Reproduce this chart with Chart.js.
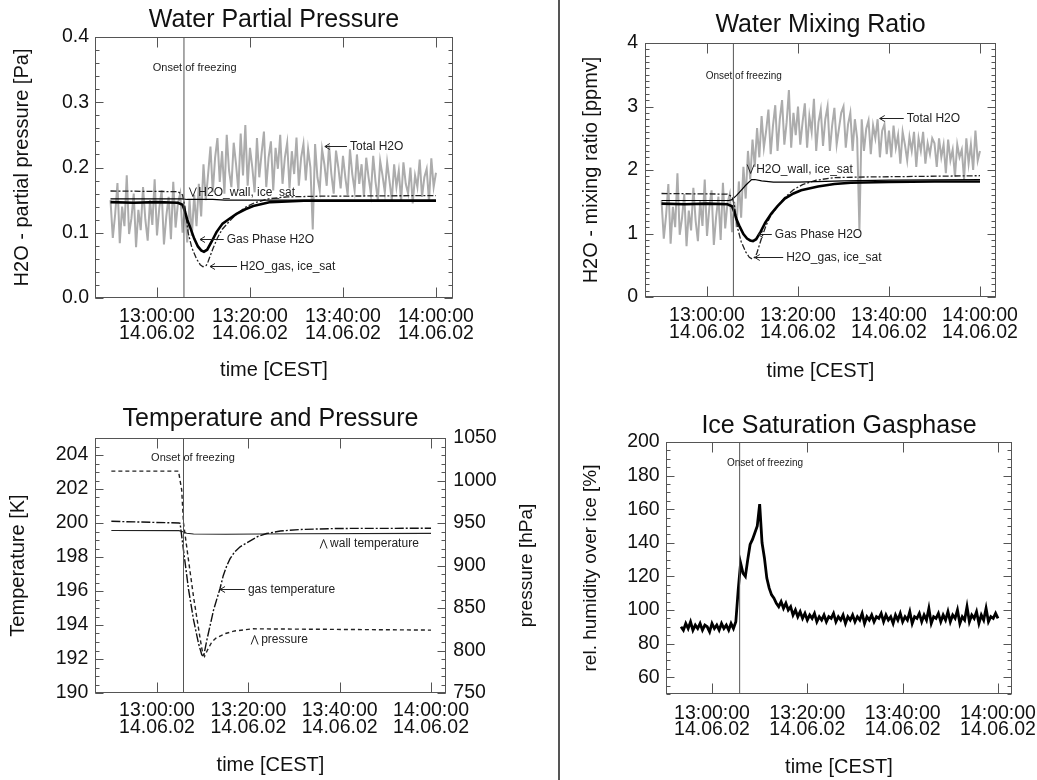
<!DOCTYPE html>
<html><head><meta charset="utf-8">
<script src="https://cdn.jsdelivr.net/npm/chart.js@4.4.1/dist/chart.umd.min.js"></script>
<style>
html,body{margin:0;padding:0;background:#fff;}
#wrap{position:relative;width:1037px;height:780px;overflow:hidden;background:#fff;}
canvas{position:absolute;}
#divider{position:absolute;left:558px;top:0;width:2px;height:780px;background:#555;}
</style></head><body>
<div id="wrap">
<canvas id="c1" width="520" height="390" style="left:0;top:0;width:520px;height:390px"></canvas>
<canvas id="c2" width="477" height="390" style="left:560px;top:0;width:477px;height:390px"></canvas>
<canvas id="c3" width="558" height="390" style="left:0;top:390px;width:558px;height:390px"></canvas>
<canvas id="c4" width="477" height="390" style="left:560px;top:390px;width:477px;height:390px"></canvas>
<div id="divider"></div>
</div>
<script>
// ---------- DATA (time in minutes after 12:00 CEST, 14.06.02) ----------
const sampleTimes = [
50,50.5,51,51.5,52,52.5,53,53.5,54,54.5,55,55.5,56,56.5,57,57.5,58,58.5,59,59.5,
60,60.5,61,61.5,62,62.5,63,63.5,64,64.5,65,65.5,66,66.5,67,67.5,68,68.5,69,69.5,
70,70.5,71,71.5,72,72.5,73,73.5,74,74.5,75,75.5,76,76.5,77,77.5,78,78.5,79,79.5,
80,80.5,81,81.5,82,82.5,83,83.5,84,84.5,85,85.5,86,86.5,87,87.5,88,88.5,89,89.5,
90,90.5,91,91.5,92,92.5,93,93.5,94,94.5,95,95.5,96,96.5,97,97.5,98,98.5,99,99.5,
100,100.5,101,101.5,102,102.5,103,103.5,104,104.5,105,105.5,106,106.5,107,107.5,108,108.5,109,109.5,
110,110.5,111,111.5,112,112.5,113,113.5,114,114.5,115,115.5,116,116.5,117,117.5,118,118.5,119,119.5,
120];
const totalH2OPa = [
0.150,0.092,0.128,0.176,0.084,0.140,0.110,0.188,0.098,0.122,0.160,0.078,0.135,0.104,0.170,0.120,0.088,0.150,0.112,0.182,
0.096,0.138,0.165,0.082,0.125,0.155,0.090,0.178,0.108,0.145,0.160,0.100,0.140,0.085,0.150,0.095,0.158,0.110,0.175,0.125,
0.205,0.150,0.190,0.232,0.162,0.215,0.245,0.178,0.225,0.160,0.250,0.195,0.170,0.238,0.205,0.165,0.252,0.188,0.265,0.172,
0.230,0.200,0.162,0.245,0.185,0.222,0.255,0.170,0.215,0.240,0.165,0.230,0.198,0.250,0.175,0.215,0.238,0.168,0.225,0.190,
0.246,0.172,0.215,0.236,0.180,0.228,0.200,0.105,0.236,0.185,0.165,0.228,0.205,0.172,0.234,0.190,0.160,0.226,0.200,0.168,
0.218,0.185,0.158,0.228,0.190,0.165,0.220,0.175,0.205,0.155,0.215,0.185,0.160,0.218,0.178,0.150,0.210,0.188,0.162,0.208,
0.180,0.150,0.205,0.170,0.195,0.148,0.208,0.175,0.160,0.200,0.145,0.188,0.170,0.212,0.155,0.185,0.198,0.148,0.214,0.170,
0.192];
const totalH2OPpmv = [
1.52,0.92,1.28,1.78,0.84,1.42,1.10,1.95,0.98,1.24,1.62,0.80,1.36,1.05,1.72,1.20,0.88,1.52,1.12,1.85,
0.96,1.40,1.68,0.82,1.26,1.58,0.90,1.80,1.08,1.48,1.62,1.02,1.50,1.10,1.82,1.25,2.05,1.55,2.30,1.85,
2.48,2.05,2.66,2.20,2.85,2.35,2.62,2.95,2.25,2.70,3.02,2.30,2.80,3.10,2.40,2.75,3.26,2.35,2.90,2.55,
3.00,2.40,2.75,3.05,2.35,2.85,2.60,3.12,2.30,2.75,2.95,2.38,2.80,3.00,2.30,2.70,2.98,2.40,2.65,2.90,
3.00,2.35,2.72,2.90,2.30,2.80,2.50,1.05,2.80,2.30,2.65,2.78,2.25,2.70,2.50,2.80,2.20,2.62,2.72,2.25,
2.62,2.20,2.70,2.35,2.55,2.10,2.60,2.40,2.15,2.52,2.30,2.60,2.05,2.50,2.30,2.60,2.10,2.42,2.25,2.50,
2.42,2.05,2.50,2.20,2.40,1.95,2.48,2.15,2.32,1.90,2.40,2.20,2.32,1.85,2.50,2.10,2.40,2.00,2.62,2.15,
2.30];
const rhIce = [
null,null,null,null,null,null,null,90,88,92,89,93,88,91,89,92,88,91,90,87,
92,89,91,88,92,89,91,88,92,89,93,112,128,122,120,130,139,142,146,150,
163,140,131,119,113,109,107,104,102,105,101,104,100,102,97,100,96,99,95,98,
94,97,95,98,93,96,94,97,93,96,95,98,93,96,94,97,92,96,94,97,
93,96,94,98,92,96,94,97,93,96,95,98,93,97,94,96,92,97,94,98,
93,96,94,99,92,96,95,98,93,97,94,101,92,96,95,98,93,97,94,99,
93,97,95,100,92,96,94,102,93,97,95,99,92,97,94,101,93,96,95,98,
95];

const wallTimes      = [50, 64.8, 65.4, 66.5, 67.5, 68.5, 69.8, 70.5, 72, 74.6, 80, 90, 100, 120];
const wallIceSatPa   = [0.152,0.152,0.152,0.151,0.151,0.151,0.151,0.151,0.151,0.150,0.150,0.150,0.150,0.150];
const wallIceSatPpmv = [1.52,1.52,1.53,1.60,1.68,1.76,1.85,1.85,1.83,1.81,1.81,1.83,1.84,1.85];

const iceSatTimes    = [50,64.5,65.5,66,66.7,67.5,68.5,69.3,69.9,70.6,71,72,73,74,75.5,77,79,81,84,88,95,120];
const gasIceSatPa    = [0.164,0.163,0.158,0.140,0.100,0.077,0.060,0.051,0.048,0.050,0.056,0.075,0.092,0.105,0.117,0.128,0.139,0.146,0.152,0.155,0.156,0.157];
const gasIceSatPpmv  = [1.63,1.62,1.58,1.45,1.09,0.875,0.71,0.626,0.60,0.63,0.70,0.93,1.13,1.28,1.43,1.56,1.69,1.77,1.84,1.88,1.89,1.91];

const gasPhaseTimes  = [50,55,60,64.5,65.5,66,66.5,67.1,68,68.8,69.5,70.1,70.8,71.8,72.8,74.1,75.5,77.1,79,80.7,84.4,88,91.6,100,110,120];
const gasPhasePa     = [0.147,0.146,0.147,0.146,0.143,0.133,0.120,0.109,0.091,0.079,0.073,0.071,0.074,0.087,0.101,0.114,0.121,0.129,0.136,0.141,0.147,0.148,0.149,0.149,0.149,0.149];
const gasPhasePpmv   = [1.47,1.46,1.47,1.46,1.43,1.34,1.22,1.12,0.99,0.92,0.89,0.88,0.91,1.03,1.17,1.31,1.43,1.55,1.63,1.68,1.74,1.78,1.80,1.81,1.82,1.82];

const gasTempTimes   = [50,64.8,65.05,65.8,66.9,68.0,69.1,69.8,70.2,70.9,72.4,73.8,74.5,75.3,76,77,78.2,80.4,82,84,87,91.4,100,120];
const gasTemp        = [200.1,200.0,199.98,198.4,196.1,194.3,192.9,192.25,192.15,193.1,194.9,196.15,196.9,197.5,197.9,198.3,198.6,198.95,199.2,199.38,199.53,199.62,199.68,199.69];
const wallTempTimes  = [50,64.8,65.5,66.5,68,75,90,120];
const wallTemp       = [199.56,199.55,199.5,199.4,199.35,199.34,199.37,199.39];
const pressureTimes  = [50,64.7,65.4,65.8,66.7,68,69.5,70.0,70.4,71,72,73,75,77,81,95,120];
const pressure       = [1011,1011,989,950,914,863,812,797,793,800,810,815,820,823,825.5,825,824];

const onsetTime = 65.8;

const xTickValues = [60, 80, 100, 120];
const xTickLabels = [["13:00:00","14.06.02"],["13:20:00","14.06.02"],["13:40:00","14.06.02"],["14:00:00","14.06.02"]];
const ppTickValues = [0, 0.1, 0.2, 0.3, 0.4];
const ppTickLabels = ["0.0","0.1","0.2","0.3","0.4"];
const mrTickValues = [0, 1, 2, 3, 4];
const mrTickLabels = ["0","1","2","3","4"];
const tempTickValues = [190,192,194,196,198,200,202,204];
const tempTickLabels = ["190","192","194","196","198","200","202","204"];
const presTickValues = [750,800,850,900,950,1000,1050];
const presTickLabels = ["750","800","850","900","950","1000","1050"];
const rhTickValues = [60,80,100,120,140,160,180,200];
const rhTickLabels = ["60","80","100","120","140","160","180","200"];

const titles = ["Water Partial Pressure","Water Mixing Ratio","Temperature and Pressure","Ice Saturation Gasphase"];
const xAxisTitle = "time [CEST]";
const yTitles = ["H2O - partial pressure [Pa]","H2O - mixing ratio [ppmv]","Temperature [K]","rel. humidity over ice [%]"];
const pressureAxisTitle = "pressure [hPa]";
const onsetText = "Onset of freezing";

// ---------- helpers ----------
Chart.defaults.font.family = '"Liberation Sans", Arial, Helvetica, sans-serif';
const FONT = '"Liberation Sans", Arial, Helvetica, sans-serif';
function pts(xs, ys){ return xs.map((x,i)=>({x:x, y:ys[i]})); }

const idlFrame = {
  id:'idlFrame',
  afterDatasetsDraw(chart, args, o){
    const ctx = chart.ctx, a = chart.chartArea;
    ctx.save();
    ctx.strokeStyle = '#555'; ctx.lineWidth = 1;
    const L = Math.round(a.left)+0.5, R = Math.round(a.right)-0.5, T = Math.round(a.top)+0.5, B = Math.round(a.bottom)-0.5;
    ctx.strokeRect(L, T, R-L, B-T);
    ctx.beginPath();
    const xs = chart.scales.x;
    xs.ticks.forEach(t=>{
      const p = Math.round(xs.getPixelForValue(t.value))+0.5;
      ctx.moveTo(p,B); ctx.lineTo(p,B-o.xLen);
      ctx.moveTo(p,T); ctx.lineTo(p,T+o.xLen);
    });
    (o.yAxes||[]).forEach(ax=>{
      const s = chart.scales[ax.id];
      const mark = (v,len)=>{
        const p = Math.round(s.getPixelForValue(v))+0.5;
        if (ax.sides.indexOf('left')>=0){ ctx.moveTo(L,p); ctx.lineTo(L+len,p); }
        if (ax.sides.indexOf('right')>=0){ ctx.moveTo(R,p); ctx.lineTo(R-len,p); }
      };
      s.ticks.forEach(t=>mark(t.value, ax.major));
      const k0 = Math.ceil(s.min/ax.minorStep-1e-9), k1 = Math.floor(s.max/ax.minorStep+1e-9);
      for (let k=k0;k<=k1;k++) mark(k*ax.minorStep, ax.minor);
    });
    ctx.stroke();
    ctx.restore();
  }
};

const notesPlugin = {
  id:'notes',
  afterDatasetsDraw(chart, args, o){
    const ctx = chart.ctx, xs = chart.scales.x, ys = chart.scales[o.yAxis||'y'];
    ctx.save();
    ctx.fillStyle = '#222'; ctx.strokeStyle = '#222'; ctx.lineWidth = 1;
    ctx.textBaseline = 'middle'; ctx.textAlign = 'left';
    (o.items||[]).forEach(n=>{
      const px = xs.getPixelForValue(n.x), py = Math.round(ys.getPixelForValue(n.y))+0.5;
      ctx.font = (n.size||12)+'px '+FONT;
      ctx.fillText(n.text, px, py);
      ctx.beginPath();
      if (n.tip!==undefined){
        const tp = xs.getPixelForValue(n.tip);
        ctx.moveTo(px-3,py); ctx.lineTo(tp,py);
        ctx.moveTo(tp+5,py-3); ctx.lineTo(tp,py); ctx.lineTo(tp+5,py+3);
      }
      if (n.mark==='vee'){ ctx.moveTo(px-9,py-5); ctx.lineTo(px-5.5,py+4); ctx.lineTo(px-2,py-5); }
      if (n.mark==='caret'){ ctx.moveTo(px-10,py+5); ctx.lineTo(px-6.5,py-4); ctx.lineTo(px-3,py+5); }
      ctx.stroke();
    });
    ctx.restore();
  }
};

const sideTitlePlugin = {
  id:'sideTitle',
  afterDraw(chart, args, o){
    if (!o || !o.text) return;
    const ctx = chart.ctx, a = chart.chartArea;
    ctx.save();
    ctx.fillStyle = '#111'; ctx.font = o.size+'px '+FONT;
    ctx.textAlign = 'center'; ctx.textBaseline = 'middle';
    ctx.translate(o.x, (a.top+a.bottom)/2);
    ctx.rotate(-Math.PI/2);
    ctx.fillText(o.text, 0, 0);
    ctx.restore();
  }
};

function xScale(min, max, tickPad, titlePad, height){
  return {
    type:'linear', position:'bottom', min:min, max:max,
    grid:{display:false, drawTicks:false}, border:{display:false},
    afterBuildTicks: s => { s.ticks = xTickValues.map(v=>({value:v})); },
    afterFit: s => { s.height = height; s.paddingLeft = 0; s.paddingRight = 0; },
    ticks:{autoSkip:false, maxRotation:0, minRotation:0, padding:tickPad, color:'#111',
      font:{size:19.5, lineHeight:0.86},
      callback: v => xTickLabels[xTickValues.indexOf(v)]},
    title:{display:true, text:xAxisTitle, color:'#111', font:{size:20, lineHeight:1.2}, padding:{top:0, bottom:titlePad}}
  };
}
function yScale(o){
  return {
    type:'linear', position:o.position||'left', min:o.min, max:o.max,
    grid:{display:false, drawTicks:false}, border:{display:false},
    afterBuildTicks: s => { s.ticks = o.values.map(v=>({value:v})); },
    afterFit: s => { s.width = o.width; s.paddingTop = 0; s.paddingBottom = 0; },
    ticks:{padding:o.tickPad, color:'#111', font:{size:19.5},
      callback: v => o.labels[o.values.indexOf(v)]},
    title:{display: !!o.title, text:o.title||'', color:'#111', font:{size:o.titleSize||20, lineHeight:1.2}, padding:{top:o.titlePad||0, bottom:0}}
  };
}
function makeChart(id, c){
  return new Chart(document.getElementById(id), {
    type:'line',
    data:{datasets:c.datasets},
    options:{
      responsive:false, animation:false, devicePixelRatio:1, events:[],
      layout:{padding:{left:0, right:c.padRight, top:0, bottom:0}, autoPadding:false},
      elements:{point:{radius:0}, line:{tension:0}},
      plugins:{
        legend:{display:false}, tooltip:{enabled:false},
        title:{display:true, text:c.title, fullSize:false, color:'#111',
          font:{size:25, weight:'normal', lineHeight:1.2}, padding:{top:c.titleTop, bottom:c.titleBottom}},
        idlFrame:c.frame, notes:c.notes, sideTitle:c.sideTitle||{}
      },
      scales:c.scales
    },
    plugins:[idlFrame, notesPlugin, sideTitlePlugin]
  });
}
const GREY = '#acacac';

// ---------- Panel 1: Water Partial Pressure ----------
makeChart('c1', {
  title:titles[0], titleTop:4.8, titleBottom:2.2, padRight:67,
  datasets:[
    {label:'Onset of freezing', data:[{x:onsetTime,y:0},{x:onsetTime,y:0.4}], borderColor:'#555', borderWidth:1, order:0},
    {label:'Gas Phase H2O', data:pts(gasPhaseTimes, gasPhasePa), borderColor:'#000', borderWidth:2.6, order:1},
    {label:'H2O_wall, ice_sat', data:pts(wallTimes, wallIceSatPa), borderColor:'#000', borderWidth:1.2, order:2},
    {label:'H2O_gas, ice_sat', data:pts(iceSatTimes, gasIceSatPa), borderColor:'#222', borderWidth:1.3, borderDash:[6,2,2,2], order:3},
    {label:'Total H2O', data:pts(sampleTimes, totalH2OPa), borderColor:GREY, borderWidth:2, order:5}
  ],
  scales:{
    x:xScale(46.67, 123.66, 10.6, 8, 92),
    y:yScale({min:0, max:0.4, values:ppTickValues, labels:ppTickLabels, width:95, tickPad:6, title:yTitles[0], titlePad:10.5})
  },
  frame:{xLen:10, yAxes:[{id:'y', sides:['left','right'], major:8, minor:4, minorStep:0.02}]},
  notes:{items:[
    {text:onsetText, x:59.1, y:0.3545, size:11},
    {text:'Total H2O', x:101.5, y:0.2334, tip:96.1},
    {text:'H2O_wall, ice_sat', x:68.9, y:0.163, mark:'vee'},
    {text:'Gas Phase H2O', x:75.0, y:0.090, tip:69.25},
    {text:'H2O_gas, ice_sat', x:77.85, y:0.049, tip:71.4}
  ]}
});

// ---------- Panel 2: Water Mixing Ratio ----------
makeChart('c2', {
  title:titles[1], titleTop:10, titleBottom:3, padRight:41,
  datasets:[
    {label:'Onset of freezing', data:[{x:onsetTime,y:0},{x:onsetTime,y:4}], borderColor:'#555', borderWidth:1, order:0},
    {label:'Gas Phase H2O', data:pts(gasPhaseTimes, gasPhasePpmv), borderColor:'#000', borderWidth:2.6, order:1},
    {label:'H2O_wall, ice_sat', data:pts(wallTimes, wallIceSatPpmv), borderColor:'#000', borderWidth:1.2, order:2},
    {label:'H2O_gas, ice_sat', data:pts(iceSatTimes, gasIceSatPpmv), borderColor:'#222', borderWidth:1.3, borderDash:[6,2,2,2], order:3},
    {label:'Total H2O', data:pts(sampleTimes, totalH2OPpmv), borderColor:GREY, borderWidth:2, order:5}
  ],
  scales:{
    x:xScale(46.37, 123.52, 10.6, 6.5, 93),
    y:yScale({min:0, max:4, values:mrTickValues, labels:mrTickLabels, width:85, tickPad:7, title:yTitles[1], titlePad:19.5})
  },
  frame:{xLen:10, yAxes:[{id:'y', sides:['left','right'], major:8, minor:4, minorStep:0.1}]},
  notes:{items:[
    {text:onsetText, x:59.7, y:3.476, size:10},
    {text:'Total H2O', x:103.9, y:2.825, tip:97.96},
    {text:'H2O_wall, ice_sat', x:70.8, y:2.02, mark:'vee'},
    {text:'Gas Phase H2O', x:74.9, y:1.0, tip:71.2},
    {text:'H2O_gas, ice_sat', x:77.4, y:0.63, tip:70.5}
  ]}
});

// ---------- Panel 3: Temperature and Pressure ----------
makeChart('c3', {
  title:titles[2], titleTop:14.5, titleBottom:3.5, padRight:0,
  datasets:[
    {label:'Onset of freezing', data:[{x:onsetTime,y:190},{x:onsetTime,y:205}], yAxisID:'y', borderColor:'#555', borderWidth:1, order:0},
    {label:'gas temperature', data:pts(gasTempTimes, gasTemp), yAxisID:'y', borderColor:'#111', borderWidth:1.4, borderDash:[9,2,2,2], order:1},
    {label:'wall temperature', data:pts(wallTempTimes, wallTemp), yAxisID:'y', borderColor:'#222', borderWidth:1.1, order:2},
    {label:'pressure', data:pts(pressureTimes, pressure), yAxisID:'y1', borderColor:'#222', borderWidth:1.4, borderDash:[4,3], order:3}
  ],
  scales:{
    x:xScale(46.42, 123.28, 9.1, 3, 87),
    y:yScale({min:190, max:205, values:tempTickValues, labels:tempTickLabels, width:95, tickPad:6.7, title:yTitles[2], titlePad:6.3}),
    y1:yScale({position:'right', min:750, max:1050, values:presTickValues, labels:presTickLabels, width:112, tickPad:7.3})
  },
  frame:{xLen:10, yAxes:[
    {id:'y', sides:['left'], major:8, minor:4, minorStep:0.5},
    {id:'y1', sides:['right'], major:8, minor:4, minorStep:10}
  ]},
  notes:{items:[
    {text:onsetText, x:58.7, y:203.9, size:11},
    {text:'wall temperature', x:97.9, y:198.8, mark:'caret'},
    {text:'gas temperature', x:79.9, y:196.1, tip:73.8},
    {text:'pressure', x:82.8, y:193.2, mark:'caret'}
  ]},
  sideTitle:{text:pressureAxisTitle, x:527, size:19}
});

// ---------- Panel 4: Ice Saturation Gasphase ----------
makeChart('c4', {
  title:titles[3], titleTop:20.8, titleBottom:1.2, padRight:25,
  datasets:[
    {label:'Onset of freezing', data:[{x:onsetTime,y:50},{x:onsetTime,y:200}], borderColor:'#555', borderWidth:1, order:0},
    {label:'RHi', data:pts(sampleTimes, rhIce), borderColor:'#000', borderWidth:2.8, spanGaps:false, order:1}
  ],
  scales:{
    x:xScale(50.35, 122.94, 10.9, 0.5, 86),
    y:yScale({min:50, max:200, values:rhTickValues, labels:rhTickLabels, width:106, tickPad:6.3, title:yTitles[3], titlePad:19.3, titleSize:19})
  },
  frame:{xLen:10, yAxes:[{id:'y', sides:['left','right'], major:8, minor:4, minorStep:5}]},
  notes:{items:[
    {text:onsetText, x:63.15, y:187.7, size:10}
  ]}
});
</script>
</body></html>
